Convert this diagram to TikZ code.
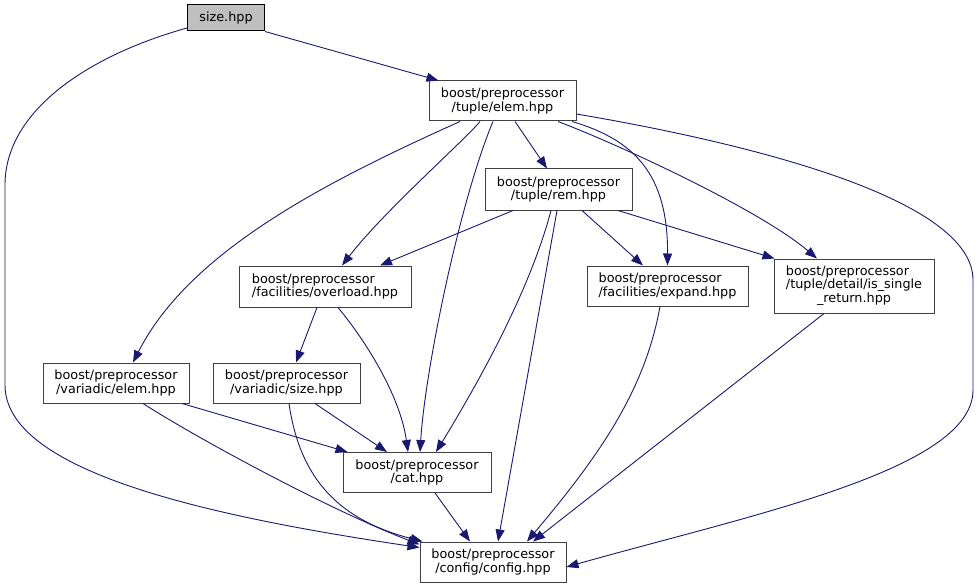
\documentclass[tikz,border=0pt]{standalone}
\usepackage{fontspec}
\setmainfont{DejaVu Sans}
\usetikzlibrary{arrows.meta}
\definecolor{kantfarge}{HTML}{191970}
\definecolor{rammefarge}{HTML}{404040}
\definecolor{rotfarge}{HTML}{BFBFBF}
\tikzset{
    %Define standard arrow tip
    >={Triangle[length=12pt,width=9pt]},
    %Define style for file boxes
    fil/.style={
           rectangle,
           draw=rammefarge,
           fill=white,
           line width=1pt,
           inner sep=0pt,
           minimum width=147pt,
           minimum height=40pt,
           align=center,
           font=\fontsize{12.8}{13.5}\selectfont},
    %Define style for the root file
    rot/.style={
           fil,
           draw=black,
           fill=rotfarge},
    % Define arrow style
    kant/.style={
           ->,
           color=kantfarge,
           line width=0.9pt}
}
\begin{document}
\begin{tikzpicture}[x=1pt,y=-1pt]
  \fill[white] (0,0) rectangle (979,588);
  \useasboundingbox (0,0) rectangle (979,588);
  % files
  \node[rot,minimum width=77pt,minimum height=26pt] (size) at (226,18) {size.hpp};
  \node[fil] (elem) at (502.5,101) {boost/preprocessor\\/tuple/elem.hpp};
  \node[fil,minimum height=41pt] (rem) at (558.5,189.5) {boost/preprocessor\\/tuple/rem.hpp};
  \node[fil,align=left,minimum width=172pt,minimum height=41pt] (overload) at (325,286.5) {boost/preprocessor\\/facilities/overload.hpp};
  \node[fil,align=left,minimum width=161pt] (expand) at (667.5,286) {boost/preprocessor\\/facilities/expand.hpp};
  \node[fil,minimum width=160pt,minimum height=54pt] (single) at (854,286)
    {\begin{tabular}{@{}l@{}}boost/preprocessor\\/tuple/detail/is\_single\\\multicolumn{1}{@{}c@{}}{\_return.hpp}\end{tabular}};
  \node[fil,minimum width=146pt] (velem) at (116,383) {boost/preprocessor\\/variadic/elem.hpp};
  \node[fil] (vsize) at (286.5,383) {boost/preprocessor\\/variadic/size.hpp};
  \node[fil,minimum width=148pt] (cat) at (417,472.5) {boost/preprocessor\\/cat.hpp};
  \node[fil,minimum width=146pt] (config) at (493,562) {boost/preprocessor\\/config/config.hpp};
  % includes
  \draw[kant] (size.south east) -- ([xshift=-64pt]elem.north);
  \draw[kant] ([yshift=-10pt]size.west) .. controls (90,55) and (5,110) .. (5,185)
    -- (5,385) .. controls (5,470) and (200,515) .. ([yshift=-6pt]config.north west);
  \draw[kant] ([xshift=12.5pt]elem.south) -- ([xshift=-11.5pt]rem.north);
  \draw[kant] ([xshift=-22.5pt]elem.south) .. controls (465,140) and (385,210) .. ([xshift=17pt]overload.north);
  \draw[kant] ([xshift=-42.5pt]elem.south) .. controls (330,180) and (190,250) .. ([xshift=17pt]velem.north);
  \draw[kant] ([xshift=-9.5pt]elem.south) .. controls (460,200) and (425,370) .. ([xshift=3pt]cat.north);
  \draw[kant] ([xshift=69.5pt]elem.south) .. controls (635,140) and (668,175) .. (expand.north);
  \draw[kant] ([xshift=55.5pt]elem.south) .. controls (620,145) and (760,210) .. ([xshift=-37pt]single.north);
  \draw[kant] ([yshift=-13pt]elem.east) .. controls (700,135) and (973,190) .. (973,280)
    -- (973,390) .. controls (973,470) and (750,515) .. ([yshift=-5pt]config.east);
  \draw[kant] ([xshift=-45.5pt]rem.south) -- ([xshift=55pt]overload.north);
  \draw[kant] ([xshift=23.5pt]rem.south) -- ([xshift=-24.5pt]expand.north);
  \draw[kant] ([xshift=59.5pt]rem.south) -- ([xshift=1pt]single.north west);
  \draw[kant] ([xshift=-7.5pt]rem.south) .. controls (530,290) and (480,380) .. ([xshift=19pt]cat.north);
  \draw[kant] ([xshift=-1.5pt]rem.south) -- ([xshift=5pt]config.north);
  \draw[kant] ([xshift=-8pt]overload.south) -- ([xshift=9.5pt]vsize.north);
  \draw[kant] ([xshift=13pt]overload.south) .. controls (365,340) and (400,395) .. ([xshift=-9pt]cat.north);
  \draw[kant] ([xshift=-7.5pt]expand.south) .. controls (645,390) and (600,455) .. ([xshift=34pt]config.north);
  \draw[kant] ([xshift=-30pt]single.south) -- ([xshift=40pt]config.north);
  \draw[kant] ([xshift=66pt]velem.south) -- ([xshift=5pt]cat.north west);
  \draw[kant] ([xshift=27pt]velem.south) .. controls (200,440) and (330,510) .. ([yshift=-3pt]config.north west);
  \draw[kant] ([xshift=28.5pt]vsize.south) -- ([xshift=-30pt]cat.north);
  \draw[kant] ([xshift=2.5pt]vsize.south) .. controls (300,480) and (340,520) .. ([xshift=3pt]config.north west);
  \draw[kant] ([xshift=18pt]cat.south) -- ([xshift=-23pt]config.north);
\end{tikzpicture}
\end{document}
